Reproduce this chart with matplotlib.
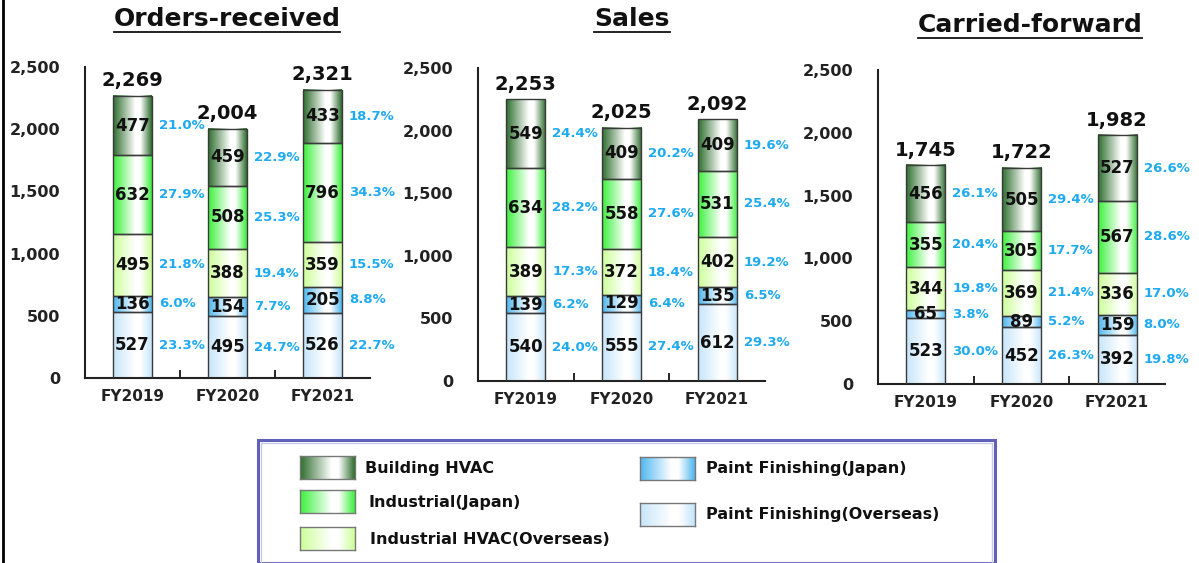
import numpy as np
import matplotlib.pyplot as plt
from matplotlib.colors import to_rgb
from matplotlib.lines import Line2D
from matplotlib.patches import Rectangle

plt.rcParams['font.family'] = ['DejaVu Sans']
plt.rcParams['font.weight'] = 'bold'

years = ['FY2019', 'FY2020', 'FY2021']
# bottom -> top
segments = ['Paint Finishing(Overseas)', 'Paint Finishing(Japan)',
            'Industrial HVAC(Overseas)', 'Industrial(Japan)', 'Building HVAC']
seg_colors = ['#c6e5fb', '#4fb8f0', '#ccff99', '#3cf03c', '#2e6e2e']

# Orders-received
orders_po = [527, 495, 526]
orders_pj = [136, 154, 205]
orders_iho = [495, 388, 359]
orders_ij = [632, 508, 796]
orders_bh = [477, 459, 433]
orders_total = [2269, 2004, 2321]
orders_pct_po = [23.3, 24.7, 22.7]
orders_pct_pj = [6.0, 7.7, 8.8]
orders_pct_iho = [21.8, 19.4, 15.5]
orders_pct_ij = [27.9, 25.3, 34.3]
orders_pct_bh = [21.0, 22.9, 18.7]

# Sales
sales_po = [540, 555, 612]
sales_pj = [139, 129, 135]
sales_iho = [389, 372, 402]
sales_ij = [634, 558, 531]
sales_bh = [549, 409, 409]
sales_total = [2253, 2025, 2092]
sales_pct_po = [24.0, 27.4, 29.3]
sales_pct_pj = [6.2, 6.4, 6.5]
sales_pct_iho = [17.3, 18.4, 19.2]
sales_pct_ij = [28.2, 27.6, 25.4]
sales_pct_bh = [24.4, 20.2, 19.6]

# Carried-forward
carried_po = [523, 452, 392]
carried_pj = [65, 89, 159]
carried_iho = [344, 369, 336]
carried_ij = [355, 305, 567]
carried_bh = [456, 505, 527]
carried_total = [1745, 1722, 1982]
carried_pct_po = [30.0, 26.3, 19.8]
carried_pct_pj = [3.8, 5.2, 8.0]
carried_pct_iho = [19.8, 21.4, 17.0]
carried_pct_ij = [20.4, 17.7, 28.6]
carried_pct_bh = [26.1, 29.4, 26.6]

W, H = 1199, 563


def fx(px):
    return px / W


def fy(py):
    return 1 - py / H


def grad(color, n=80):
    # saturated at the edges, white band right of centre
    c = np.array(to_rgb(color))
    t = np.linspace(0, 1, n)
    peak = 0.66
    w = np.where(t < peak, t / peak, (1 - t) / (1 - peak))
    w = np.clip(w * 1.15, 0, 1)
    rgb = c[None, :] * (1 - w)[:, None] + w[:, None]
    return rgb[None, :, :]


panels = [
    ('Orders-received', [orders_po, orders_pj, orders_iho, orders_ij, orders_bh],
     [orders_pct_po, orders_pct_pj, orders_pct_iho, orders_pct_ij, orders_pct_bh],
     orders_total, (85, 370, 67, 378), (227, 19)),
    ('Sales', [sales_po, sales_pj, sales_iho, sales_ij, sales_bh],
     [sales_pct_po, sales_pct_pj, sales_pct_iho, sales_pct_ij, sales_pct_bh],
     sales_total, (478, 765, 68, 381), (632, 19)),
    ('Carried-forward', [carried_po, carried_pj, carried_iho, carried_ij, carried_bh],
     [carried_pct_po, carried_pct_pj, carried_pct_iho, carried_pct_ij, carried_pct_bh],
     carried_total, (878, 1165, 70, 384), (1030, 25)),
]

fig = plt.figure(figsize=(W / 100, H / 100), dpi=100)
titles = []

for title, vals, pcts, totals, (x0, x1, y0, y1), (tx, ty) in panels:
    ax = fig.add_axes([fx(x0), fy(y1), fx(x1) - fx(x0), fy(y0) - fy(y1)])
    x = np.arange(len(years))
    bottom = np.zeros(len(years))
    for vi, (v, p) in enumerate(zip(vals, pcts)):
        bars = ax.bar(x, v, 0.41, bottom=bottom, color='none',
                      edgecolor='#3a3a3a', linewidth=1, zorder=3)
        for i, b in enumerate(bars):
            bx, by, bw, bh = b.get_x(), b.get_y(), b.get_width(), b.get_height()
            ax.imshow(grad(seg_colors[vi]), extent=[bx, bx + bw, by, by + bh],
                      aspect='auto', zorder=2, interpolation='bilinear')
            cy = by + bh / 2
            ax.text(x[i], cy, str(v[i]), ha='center', va='center',
                    fontsize=12, color='#111111', zorder=4)
            ax.annotate(f'{p[i]:.1f}%', (bx + bw, cy), xytext=(5, 0),
                        textcoords='offset points', ha='left', va='center',
                        fontsize=9.5, color='#1eaaf0', zorder=4)
        bottom = bottom + np.array(v)
    for i, t in enumerate(totals):
        ax.annotate(f'{t:,}', (x[i], bottom[i]), xytext=(0, 4),
                    textcoords='offset points', ha='center', va='bottom',
                    fontsize=14, color='#111111')
    ax.set_xlim(-0.5, 2.5)
    ax.set_ylim(0, 2500)
    ax.set_yticks([0, 500, 1000, 1500, 2000, 2500])
    ax.set_yticklabels([f'{v:,}' for v in [0, 500, 1000, 1500, 2000, 2500]])
    ax.set_yticks([2500], minor=True)
    ax.set_xticks(x)
    ax.set_xticklabels(years)
    ax.set_xticks([0.5, 1.5], minor=True)
    ax.tick_params(axis='y', which='major', length=0, pad=18, labelsize=11.5,
                   labelcolor='#222222')
    ax.tick_params(axis='y', which='minor', length=5, direction='in', width=1.2)
    ax.tick_params(axis='x', which='major', length=0, pad=8, labelsize=11,
                   labelcolor='#222222')
    ax.tick_params(axis='x', which='minor', length=6, direction='in', width=1.2)
    for s in ['top', 'right']:
        ax.spines[s].set_visible(False)
    for s in ['left', 'bottom']:
        ax.spines[s].set_color('#222222')
        ax.spines[s].set_linewidth(1.5)
    titles.append(fig.text(fx(tx), fy(ty), title, ha='center', va='center',
                           fontsize=18, color='#111111'))

# underline the titles
fig.canvas.draw()
r = fig.canvas.get_renderer()
for t in titles:
    bb = t.get_window_extent(r)
    yl = bb.y0 - 1
    fig.add_artist(Line2D([bb.x0 / W, bb.x1 / W], [yl / H, yl / H],
                          color='#111111', lw=1.3, transform=fig.transFigure))

# left frame line
fig.add_artist(Line2D([fx(3), fx(3)], [0, 1], color='black', lw=2))

# legend box
fig.add_artist(Rectangle((fx(258), 0), fx(995) - fx(258), fy(440), fill=False,
                         edgecolor='#6060b8', lw=2.2, transform=fig.transFigure))
fig.add_artist(Rectangle((fx(261), 0), fx(992) - fx(261), fy(443), fill=False,
                         edgecolor='#c8c8e8', lw=1, transform=fig.transFigure))

legend_items = [
    ('Building HVAC', 4, 300, 456, 365),
    ('Industrial(Japan)', 3, 300, 490, 368),
    ('Industrial HVAC(Overseas)', 2, 300, 527, 370),
    ('Paint Finishing(Japan)', 1, 640, 457, 706),
    ('Paint Finishing(Overseas)', 0, 640, 503, 706),
]
for label, ci, px, py, tx in legend_items:
    lax = fig.add_axes([fx(px), fy(py + 23), fx(px + 55) - fx(px), fy(py) - fy(py + 23)])
    lax.imshow(grad(seg_colors[ci]), aspect='auto', extent=[0, 1, 0, 1],
               interpolation='bilinear')
    lax.set_xticks([])
    lax.set_yticks([])
    for s in lax.spines.values():
        s.set_color('#777777')
        s.set_linewidth(1)
    fig.text(fx(tx), fy(py + 12), label, ha='left', va='center',
             fontsize=11.5, color='#111111')

fig.savefig('out.png', dpi=100)
